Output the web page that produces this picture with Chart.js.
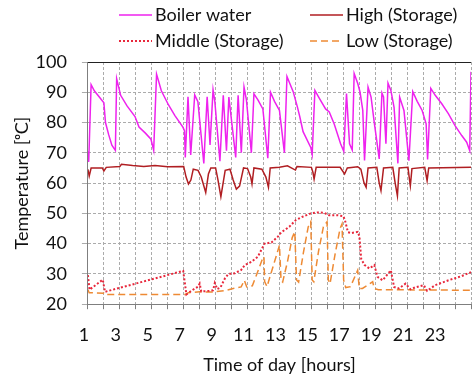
<!DOCTYPE html>
<html>
<head>
<meta charset="utf-8">
<script src="https://cdn.jsdelivr.net/npm/chart.js@4.4.0/dist/chart.umd.min.js"></script>
<style>
  html, body { margin: 0; padding: 0; background: #fff; }
</style>
</head>
<body>
<canvas id="chart" width="472" height="377"></canvas>
<script>
// [hour, temperature degC]
const seriesNames = ['Boiler water', 'High (Storage)', 'Middle (Storage)', 'Low (Storage)'];
const xLabels = [1, 3, 5, 7, 9, 11, 13, 15, 17, 19, 21, 23];

const boiler = [
  [1.0,70.5],[1.05,67],[1.2,92.5],[1.4,90.5],[1.7,88.5],[2.0,86.5],[2.1,80],[2.3,76],[2.5,72.5],[2.72,70.8],
  [2.8,94.5],[3.05,89],[3.45,85.5],[3.95,82],[4.2,78.5],[4.6,76.5],[4.95,74.5],[5.12,70.8],
  [5.3,96],[5.6,90.5],[6.05,85.8],[6.45,82.3],[6.95,78.5],[7.05,77.3],[7.1,68.5],
  [7.27,88.5],[7.44,69.3],[7.69,89.1],[7.89,86.9],[8.26,66.5],[8.47,88.5],[8.65,72.6],[8.84,90.8],[8.95,87],
  [9.27,67.2],[9.48,89],[9.68,70.7],[9.83,88.4],[10.26,68.5],[10.41,89],[10.61,70],[10.78,91.7],[10.93,87.5],
  [11.24,70],[11.4,89.5],[11.65,87.5],[11.96,84.5],[12.27,68.2],[12.44,90],[12.69,87],[13.0,84],[13.31,70],
  [13.47,95.2],[13.86,90.2],[14.13,85],[14.27,82],[14.48,77],[14.96,71.8],[15.05,69.5],
  [15.22,90.6],[15.5,88],[15.89,84.5],[16.12,83.5],[16.43,79.5],[16.83,73],[17.03,70.5],
  [17.2,89.6],[17.39,73],[17.56,70.9],[17.68,96.2],[17.91,92.8],[18.05,90],[18.22,84],[18.33,67.5],
  [18.55,91.7],[18.74,88.4],[18.94,80],[19.25,68],[19.42,89.8],[19.52,88.5],[19.67,73],[19.8,93],[19.98,90.6],
  [20.18,85],[20.42,66.5],[20.53,88.4],[20.8,84],[21.11,67.4],[21.35,90.2],[21.63,87],[21.94,84],[22.19,79.6],
  [22.28,67.8],[22.48,91.3],[22.76,89],[23.17,86.2],[23.59,82.9],[24.0,79],[24.42,75.7],[24.73,73.5],[24.92,70.7],[25.0,96.8]
];

const high = [
  [1.0,64.5],[1.08,62.3],[1.2,65],[1.9,65],[2.0,64],[2.15,65.2],[3.0,65.5],[3.1,66.2],[3.8,65.8],[4.5,65.5],
  [5.2,65.8],[6.0,65.4],[7.0,65.5],[7.15,62],[7.3,59.7],[7.45,61],[7.6,64.6],[7.9,64.2],[8.1,62],[8.38,56.9],
  [8.55,63],[8.7,65],[9.0,65],[9.15,61],[9.33,55.5],[9.5,61],[9.6,64.2],[9.9,64.6],[10.1,61],[10.3,58],
  [10.5,59],[10.75,65],[11.0,64.8],[11.2,62],[11.28,59.7],[11.4,65],[11.9,64.6],[12.15,62],[12.31,58.6],
  [12.42,65],[13.0,65.2],[13.5,65.7],[14.0,64.3],[14.1,65.5],[15.0,65.2],[15.1,63.5],[15.17,61.3],[15.3,65.2],
  [16.8,65.2],[17.08,63],[17.25,65],[17.9,65.4],[18.1,64.6],[18.3,60],[18.43,58.6],[18.55,65],[19.1,65.2],
  [19.25,60],[19.36,57.5],[19.52,65],[20.1,65.2],[20.25,60],[20.39,55.8],[20.5,65],[21.05,65.2],[21.15,61],
  [21.2,59.1],[21.3,64.8],[22.1,65.2],[22.25,60.8],[22.35,65],[25,65.2]
];

const middle = [
  [1.0,29.6],[1.1,24.8],[1.93,28.1],[2.07,24.1],[6.97,31],[7.17,23.2],[7.5,24.5],[7.9,25.8],[8.0,26.8],
  [8.1,24.2],[8.6,24.4],[8.84,24.6],[8.95,27],[9.1,25],[9.3,25.5],[9.58,28.5],[9.8,30],[10.2,30.2],
  [10.6,31.3],[10.82,32.9],[11.24,34],[11.65,35.7],[12.06,40],[12.5,40.4],[12.9,42.3],[13.1,43.7],
  [13.62,45.6],[14.03,47.8],[14.45,48.9],[14.96,50],[15.38,50.3],[15.8,50.2],[16.1,49.4],[16.62,49.4],
  [17.0,49.1],[17.1,47.8],[17.29,43.8],[17.5,43.5],[17.91,43.9],[18.01,42.3],[18.12,35],[18.32,33],
  [18.63,31.8],[18.94,32.9],[19.15,29],[19.46,27.9],[19.98,31.2],[20.18,25.7],[20.49,25.2],[20.9,26.8],
  [21.21,24.9],[21.52,25.6],[22.04,26.3],[22.25,24.4],[22.76,26.3],[23.59,27.9],[24.42,29.3],[25.0,30.6]
];

const low = [
  [1.0,24.8],[1.08,23.8],[2.0,23.6],[2.05,23.2],[7.08,23.2],[7.3,23.8],[8.0,24.1],[8.75,24],[9.6,24.5],
  [10.1,25.2],[10.6,25.7],[10.8,27.9],[10.95,25.7],[11.3,26.1],[11.6,30.2],[11.9,34.5],[12.03,35.7],
  [12.07,27.5],[12.22,25.8],[12.4,29],[12.69,34],[13.0,39.5],[13.1,27.8],[13.2,27.3],[13.5,34],[13.8,42],
  [13.96,43.9],[14.07,28],[14.2,27.3],[14.5,37],[14.8,45.5],[14.96,47.2],[15.05,28],[15.15,27.4],[15.45,37.5],
  [15.75,45.5],[15.98,47.2],[16.06,28],[16.17,26.8],[16.5,37],[16.8,45],[16.92,46.5],[17.02,28],[17.15,25.5],
  [17.45,25.8],[17.9,31.2],[18.0,25.2],[18.2,25.2],[18.84,27.4],[18.94,25.2],[19.2,24.8],[25.0,24.6]
];

const toXY = arr => arr.map(p => ({ x: p[0], y: p[1] }));

const FONT = 'Lato';

// two-row legend like the original, drawn above the plot
const legendGrid = {
  id: 'legendGrid',
  afterDraw(chart, args, opts) {
    const ctx = chart.ctx;
    ctx.save();
    ctx.font = '18px ' + FONT;
    ctx.textBaseline = 'middle';
    ctx.fillStyle = '#111';
    chart.data.datasets.forEach((ds, i) => {
      const x = opts.cols[i % 2];
      const y = opts.rows[Math.floor(i / 2)];
      ctx.strokeStyle = ds.borderColor;
      ctx.lineWidth = ds.borderWidth;
      ctx.setLineDash(ds.borderDash || []);
      ctx.beginPath();
      ctx.moveTo(x, y);
      ctx.lineTo(x + 33, y);
      ctx.stroke();
      ctx.fillText(ds.label, x + 36, y);
    });
    ctx.restore();
  }
};

// solid dark top edge of the plot area
const topEdge = {
  id: 'topEdge',
  afterDatasetsDraw(chart) {
    const { ctx, chartArea } = chart;
    ctx.save();
    ctx.strokeStyle = '#222';
    ctx.lineWidth = 1;
    ctx.beginPath();
    ctx.moveTo(chartArea.left, Math.round(chartArea.top) + 0.5);
    ctx.lineTo(chartArea.right, Math.round(chartArea.top) + 0.5);
    ctx.stroke();
    ctx.restore();
  }
};

new Chart(document.getElementById('chart'), {
  type: 'line',
  data: {
    datasets: [
      { label: seriesNames[0], data: toXY(boiler), borderColor: '#EE22EE', borderWidth: 1.5 },
      { label: seriesNames[1], data: toXY(high), borderColor: '#B01E22', borderWidth: 1.5 },
      { label: seriesNames[2], data: toXY(middle), borderColor: '#E8283C', borderWidth: 2, borderDash: [2, 2] },
      { label: seriesNames[3], data: toXY(low), borderColor: '#EE8A34', borderWidth: 1.5, borderDash: [7, 4] }
    ]
  },
  options: {
    responsive: false,
    animation: false,
    elements: { point: { radius: 0 }, line: { tension: 0 } },
    layout: { padding: { top: 62, left: 0, right: 1, bottom: 0 } },
    plugins: {
      legend: { display: false },
      tooltip: { enabled: false },
      legendGrid: { cols: [119, 310], rows: [15, 41] }
    },
    scales: {
      x: {
        type: 'linear',
        min: 1,
        max: 25,
        ticks: {
          stepSize: 1,
          autoSkip: false,
          maxRotation: 0,
          padding: 0,
          labelOffset: -4,
          color: '#111',
          font: { family: FONT, size: 18, lineHeight: 2.9 },
          callback: v => xLabels.includes(v) ? String(v) : ''
        },
        grid: { color: '#ABABAB', tickColor: '#7F7F7F', tickLength: 5 },
        border: { color: '#7F7F7F', dash: [3, 2] },
        title: { display: true, text: 'Time of day [hours]', color: '#111', font: { family: FONT, size: 18 }, padding: { top: -7, bottom: 1 } }
      },
      y: {
        min: 20,
        max: 100,
        ticks: { stepSize: 10, padding: 15, color: '#111', font: { family: FONT, size: 18 } },
        grid: { color: '#ABABAB', tickColor: '#ABABAB', tickLength: 6 },
        border: { color: '#7F7F7F', dash: [3, 2] },
        title: { display: true, text: 'Temperature [ᵒC]', color: '#111', font: { family: FONT, size: 18 }, padding: { top: 11, bottom: -12 } }
      }
    }
  },
  plugins: [legendGrid, topEdge]
});
</script>
</body>
</html>
